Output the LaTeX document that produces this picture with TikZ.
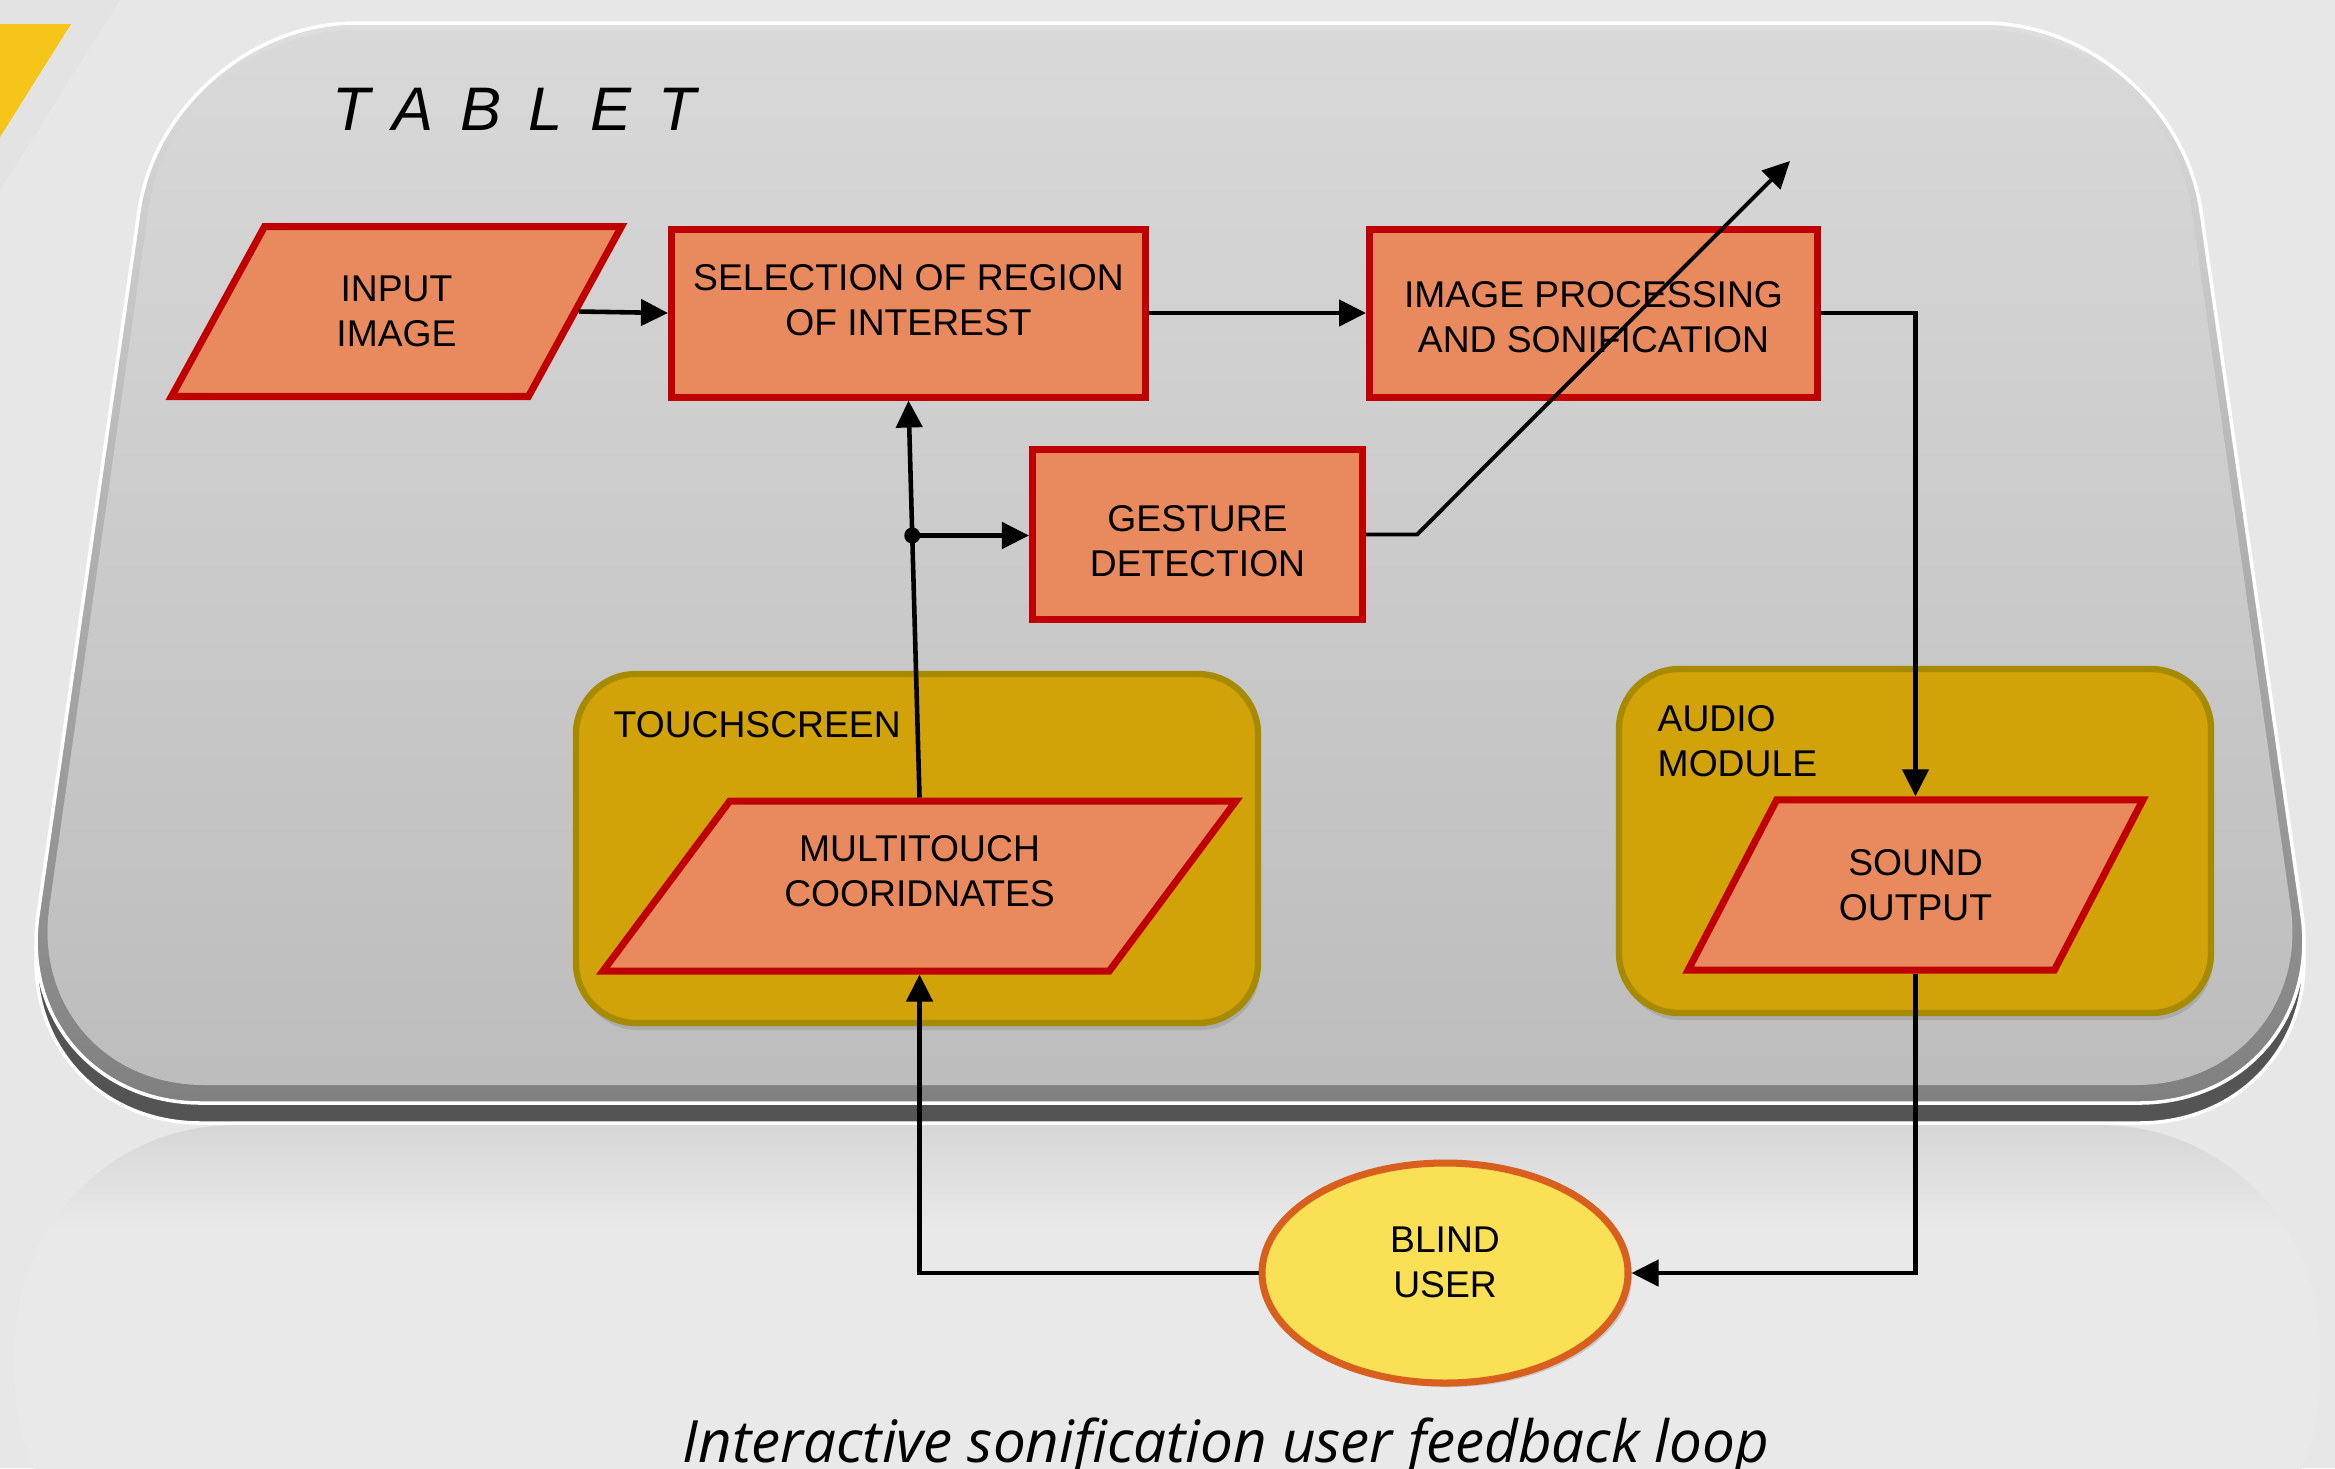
\documentclass[tikz,border=0pt]{standalone}
\usepackage{fontspec}
\setmainfont{Liberation Sans}
\newfontfamily\captionfont{Open Sans}
\usetikzlibrary{shapes.geometric,arrows.meta,shadows}

\definecolor{boxfill}{HTML}{E88A5E}
\definecolor{boxred}{HTML}{C00000}
\definecolor{groupfill}{HTML}{D1A309}
\definecolor{groupline}{HTML}{A68A00}
\definecolor{userfill}{HTML}{FAE055}
\definecolor{userline}{HTML}{D95F1E}
\definecolor{bgrey}{HTML}{E7E7E7}
\definecolor{floor}{HTML}{E9E9E9}
\definecolor{ribbon}{HTML}{F5C518}

\newcommand{\boxfont}{\fontsize{10.6}{12.8}\selectfont}
\newcommand{\lift}[1]{\rule[-#1]{0pt}{#1}}

\tikzset{
  procbox/.style={rectangle, draw=boxred, fill=boxfill, line width=2pt, align=center, font=\boxfont},
  databox/.style={trapezium, trapezium stretches body, draw=boxred, fill=boxfill, line width=2pt, align=center, font=\boxfont},
  groupbox/.style={rectangle, rounded corners=0.6cm, draw=groupline, fill=groupfill, line width=1.8pt,
    drop shadow={shadow xshift=0.02cm, shadow yshift=-0.07cm, opacity=0.3}},
  grouplbl/.style={anchor=west, inner sep=0pt, align=left, font=\boxfont},
  arr/.style={-{Triangle[length=2.7mm,width=2.6mm]}, line width=1.3pt},
}

\begin{document}
\begin{tikzpicture}
\useasboundingbox (0,0) rectangle (23.35,-14.68);
\fill[bgrey] (0,0) rectangle (23.35,-14.68);
\fill[black!11] (0,0) -- (1.2,0) -- (0,-1.9) -- cycle;
\fill[ribbon] (0,-0.24) -- (0.71,-0.24) -- (0,-1.37) -- cycle;

% floor reflection with the shadow of the tablet
\fill[floor, rounded corners=2.2cm] (0.15,-11.25) rectangle (23.2,-16);
\begin{scope}
  \clip[rounded corners=2.2cm] (0.15,-11.25) rectangle (23.2,-16);
  \shade[top color=black!17, bottom color=floor] (0,-11.1) rectangle (23.35,-12.3);
\end{scope}

% tablet body
\fill[black!67, draw=white, line width=1pt, rounded corners=1.9cm, yshift=-0.2cm]
  (1.66,-0.23) -- (21.74,-0.23) -- (23.29,-11.03) -- (0.11,-11.03) -- cycle;
\shade[top color=black!13, bottom color=black!50, draw=white, line width=1pt, rounded corners=1.9cm]
  (1.66,-0.23) -- (21.74,-0.23) -- (23.29,-11.03) -- (0.11,-11.03) -- cycle;
\shade[top color=black!15, bottom color=black!26, rounded corners=1.8cm]
  (1.74,-0.30) -- (21.66,-0.30) -- (23.16,-10.85) -- (0.24,-10.85) -- cycle;
\node[anchor=base west, inner sep=0pt, font=\fontsize{17.5}{20}\selectfont\itshape\addfontfeatures{LetterSpace=44}] (tablet) at (3.32,-1.30) {TABLET};

% groups
\node[groupbox, minimum width=6.82cm, minimum height=3.49cm] (touch) at (9.17,-8.485) {};
\node[grouplbl] (touchlbl) at (6.13,-7.25) {TOUCHSCREEN};
\node[groupbox, minimum width=5.92cm, minimum height=3.44cm] (audio) at (19.15,-8.41) {};
\node[grouplbl] (audiolbl) at (16.57,-7.415) {AUDIO\\MODULE};

% blocks
\node[databox, trapezium left angle=61.3, trapezium right angle=118.7, inner ysep=0.495cm, minimum width=4.5cm] (inimg) at (3.965,-3.115) {INPUT\\IMAGE};
\node[procbox, minimum width=4.74cm, minimum height=1.68cm] (sel) at (9.085,-3.13) {SELECTION OF REGION\\OF INTEREST\lift{0.27cm}};
\node[procbox, minimum width=4.48cm, minimum height=1.68cm] (proc) at (15.935,-3.13) {\rule{0pt}{0.35cm}IMAGE PROCESSING\\AND SONIFICATION};
\node[procbox, minimum width=3.30cm, minimum height=1.70cm] (gest) at (11.975,-5.345) {\rule{0pt}{0.39cm}GESTURE\\DETECTION};
\node[databox, trapezium left angle=53.3, trapezium right angle=126.7, inner ysep=0.345cm, minimum width=6.33cm] (mtouch) at (9.195,-8.86) {MULTITOUCH\\COORIDNATES\lift{0.3cm}};
\node[databox, trapezium left angle=62.5, trapezium right angle=117.5, inner ysep=0.495cm, minimum width=4.55cm] (sound) at (19.155,-8.85) {SOUND\\OUTPUT};
\node[ellipse, draw=userline, fill=userfill, line width=2pt, minimum width=3.66cm, minimum height=2.2cm, align=center, font=\boxfont,
  drop shadow={shadow xshift=0.04cm, shadow yshift=-0.04cm, opacity=0.3}] (user) at (14.45,-12.73) {BLIND\\USER\lift{0.22cm}};

% connectors
\coordinate (dtip) at (17.90,-1.61);
\draw[arr] (inimg.east) -- (sel.west);
\draw[arr] (sel.east) -- (proc.west);
\draw[arr] (proc.east) -| (sound.north);
\draw[arr] (mtouch.north) -- node[pos=0.66, circle, fill, inner sep=0pt, minimum size=1.6mm] (jct) {} (sel.south);
\draw[arr] (jct.center) -- (jct.center -| gest.west);
\draw[line width=1.1pt, -{Triangle[length=2.7mm,width=2.6mm]}] (gest.east) -- ++(0.51,0) -- (dtip);
\draw[arr] (sound.south) |- (user.east);
\draw[arr] (user.west) -| (mtouch.south);

\node[anchor=base, font=\captionfont\itshape\fontsize{16.6}{19}\selectfont] (caption) at (12.26,-14.62) {Interactive sonification user feedback loop};
\end{tikzpicture}
\end{document}
